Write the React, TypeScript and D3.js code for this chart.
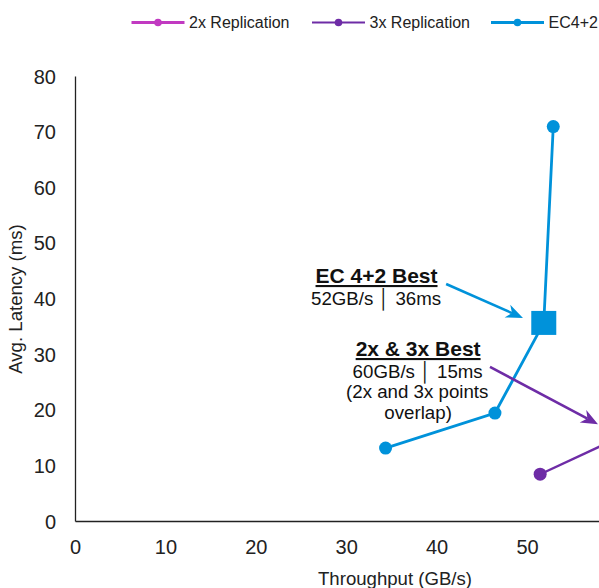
import React from "react";
import * as d3 from "d3";

// ---- data ----
const xTicks = [0, 10, 20, 30, 40, 50];
const yTicks = [0, 10, 20, 30, 40, 50, 60, 70, 80];
const rep2xX = [60, 63.5, 65];
const rep2xY = [15, 24, 58];
const rep3xX = [51.4, 60];
const rep3xY = [8.5, 15];
const ecX = [34.3, 46.4, 51.8, 52.85];
const ecY = [13.2, 19.5, 35.7, 71.0];
const ecBestX = [51.8];
const ecBestY = [35.7];
const legendLabels = ["2x Replication", "3x Replication", "EC4+2"];
const seriesColors = ["#C13AC1", "#6E2CA6", "#0092DA"];

const FONT = "'Liberation Sans', Arial, Helvetica, sans-serif";

const W = 599;
const H = 588;

const x = d3.scaleLinear().domain([0, 70]).range([75.5, 75.5 + 632.8]);
const y = d3.scaleLinear().domain([0, 80]).range([521.5, 76.5]);

const zip = (xs: number[], ys: number[]) => xs.map((v, i) => [v, ys[i]] as [number, number]);

const line = d3
  .line<[number, number]>()
  .x((d) => x(d[0]))
  .y((d) => y(d[1]));

function Arrow({ from, to, color }: { from: [number, number]; to: [number, number]; color: string }) {
  const x1 = x(from[0]);
  const y1 = y(from[1]);
  const x2 = x(to[0]);
  const y2 = y(to[1]);
  const dx = x2 - x1;
  const dy = y2 - y1;
  const len = Math.hypot(dx, dy);
  const ux = dx / len;
  const uy = dy / len;
  const nx = -uy;
  const ny = ux;
  const L = 17;
  const Wd = 7;
  const notch = 5;
  const bx = x2 - L * ux;
  const by = y2 - L * uy;
  const head = [
    [x2, y2],
    [bx + Wd * nx, by + Wd * ny],
    [x2 - (L - notch) * ux, y2 - (L - notch) * uy],
    [bx - Wd * nx, by - Wd * ny],
  ];
  return (
    <g>
      <line
        x1={x1}
        y1={y1}
        x2={x2 - (L - notch) * ux}
        y2={y2 - (L - notch) * uy}
        stroke={color}
        strokeWidth={2.6}
      />
      <path d={"M" + head.map((p) => p.join(",")).join("L") + "Z"} fill={color} />
    </g>
  );
}

export default function App() {
  const rep2x = zip(rep2xX, rep2xY);
  const rep3x = zip(rep3xX, rep3xY);
  const ec = zip(ecX, ecY);
  const ecBest = zip(ecBestX, ecBestY);

  const legendX = [131.5, 312, 491];
  const legendW = [2.8, 1.8, 2.8];

  return (
    <svg
      width={W}
      height={H}
      style={{ position: "fixed", left: 0, top: 0, display: "block", background: "#fff" }}
      fontFamily={FONT}
    >
      {/* Legend */}
      {legendLabels.map((lab, i) => (
        <g key={lab}>
          <line
            x1={legendX[i]}
            x2={legendX[i] + 53}
            y1={22.5}
            y2={22.5}
            stroke={seriesColors[i]}
            strokeWidth={legendW[i]}
          />
          <circle cx={legendX[i] + 26.5} cy={22.5} r={3.8} fill={seriesColors[i]} />
          <text x={legendX[i] + 57.5} y={27.5} fontSize={16} fill="#222">
            {lab}
          </text>
        </g>
      ))}

      {/* Axes */}
      <line x1={x(0)} x2={x(0)} y1={y(80)} y2={y(0)} stroke="#222" strokeWidth={1.3} />
      <line x1={x(0)} x2={x(70)} y1={y(0)} y2={y(0)} stroke="#222" strokeWidth={1.3} />
      {yTicks.map((t) => (
        <text key={"y" + t} x={56} y={y(t) + 7} fontSize={20} textAnchor="end" fill="#222">
          {t}
        </text>
      ))}
      {xTicks.map((t) => (
        <text key={"x" + t} x={x(t)} y={554} fontSize={20} textAnchor="middle" fill="#222">
          {t}
        </text>
      ))}
      <text x={395} y={584.5} fontSize={18.6} textAnchor="middle" fill="#222">
        Throughput (GB/s)
      </text>
      <text
        transform={`translate(22, ${(y(0) + y(80)) / 2}) rotate(-90)`}
        fontSize={18.6}
        textAnchor="middle"
        fill="#222"
      >
        Avg. Latency (ms)
      </text>

      {/* Series */}
      <path d={line(rep2x) ?? ""} fill="none" stroke={seriesColors[0]} strokeWidth={2.6} />
      {rep2x.map((d, i) => (
        <circle key={"a" + i} cx={x(d[0])} cy={y(d[1])} r={6.5} fill={seriesColors[0]} />
      ))}
      <path d={line(rep3x) ?? ""} fill="none" stroke={seriesColors[1]} strokeWidth={2.4} />
      {rep3x.map((d, i) => (
        <circle key={"b" + i} cx={x(d[0])} cy={y(d[1])} r={6.5} fill={seriesColors[1]} />
      ))}
      <path d={line(ec) ?? ""} fill="none" stroke={seriesColors[2]} strokeWidth={2.8} />
      {ec.map((d, i) => (
        <circle key={"c" + i} cx={x(d[0])} cy={y(d[1])} r={6.5} fill={seriesColors[2]} />
      ))}
      {ecBest.map((d, i) => (
        <rect
          key={"s" + i}
          x={x(d[0]) - 12.5}
          y={y(d[1]) - 12}
          width={25}
          height={24}
          fill={seriesColors[2]}
        />
      ))}

      {/* Annotations */}
      <Arrow from={[41.0, 42.7]} to={[49.5, 36.6]} color={seriesColors[2]} />
      <Arrow from={[45.85, 27.8]} to={[57.8, 17.5]} color={seriesColors[1]} />

      <g fill="#111" textAnchor="middle">
        <text x={x(33.3)} y={283} fontSize={21} fontWeight="bold" textDecoration="underline">
          EC 4+2 Best
        </text>
        <text x={x(33.25)} y={304.5} fontSize={18.7}>
          52GB/s │ 36ms
        </text>
        <text x={x(37.9)} y={356} fontSize={21} fontWeight="bold" textDecoration="underline">
          2x &amp; 3x Best
        </text>
        <text x={x(37.85)} y={378} fontSize={18.7}>
          60GB/s │ 15ms
        </text>
        <text x={x(37.8)} y={398} fontSize={18.7}>
          (2x and 3x points
        </text>
        <text x={x(37.9)} y={419} fontSize={18.7}>
          overlap)
        </text>
      </g>
    </svg>
  );
}
